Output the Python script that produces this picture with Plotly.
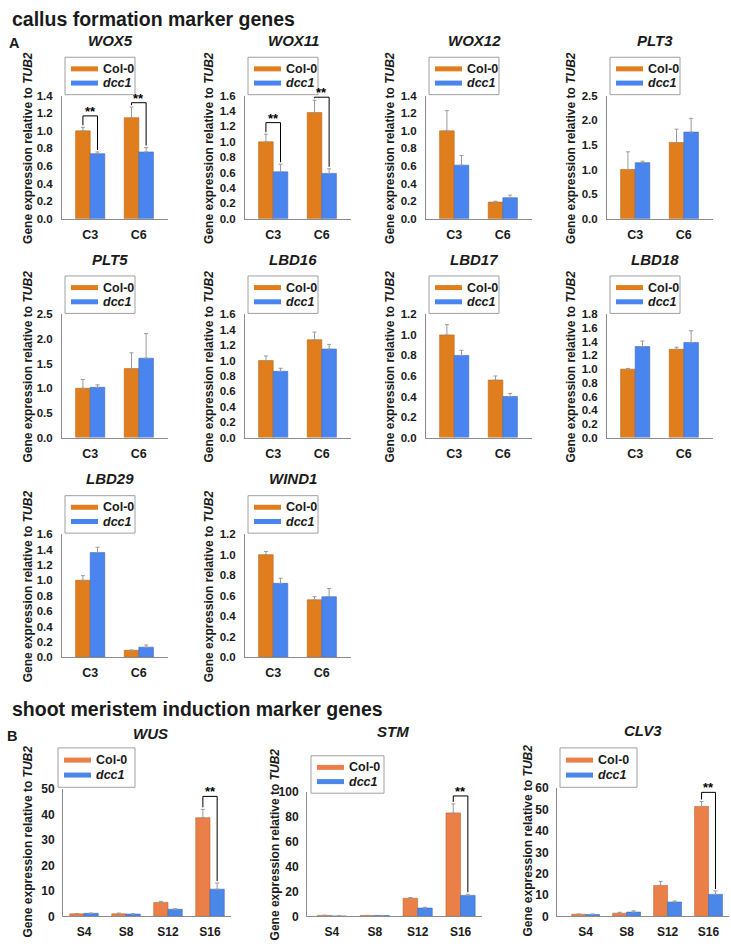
import plotly.graph_objects as go

W, H = 731, 948
FONT = "Liberation Sans, Arial, sans-serif"

# ---------------- data: panel A (callus formation marker genes) ----------------
categories_A = ["C3", "C6"]
genes_A = ["WOX5", "WOX11", "WOX12", "PLT3", "PLT5", "LBD16", "LBD17", "LBD18", "LBD29", "WIND1"]
col0_A = [[1.00, 1.15], [1.00, 1.38], [1.00, 0.19], [1.00, 1.55], [1.00, 1.40],
          [1.00, 1.27], [1.00, 0.56], [1.00, 1.29], [1.00, 0.09], [1.00, 0.56]]
col0_A_err = [[0.04, 0.12], [0.10, 0.16], [0.23, 0.01], [0.36, 0.27], [0.18, 0.32],
              [0.06, 0.10], [0.10, 0.04], [0.01, 0.03], [0.06, 0.005], [0.03, 0.03]]
dcc1_A = [[0.74, 0.76], [0.61, 0.59], [0.61, 0.24], [1.14, 1.76], [1.02, 1.61],
          [0.86, 1.15], [0.80, 0.40], [1.33, 1.39], [1.36, 0.13], [0.72, 0.59]]
dcc1_A_err = [[0.02, 0.05], [0.10, 0.06], [0.11, 0.03], [0.03, 0.28], [0.05, 0.50],
              [0.04, 0.06], [0.05, 0.03], [0.08, 0.17], [0.07, 0.03], [0.05, 0.08]]
ymax_A = [1.4, 1.6, 1.4, 2.5, 2.5, 1.6, 1.2, 1.8, 1.6, 1.2]
dtick_A = [0.2, 0.2, 0.2, 0.5, 0.5, 0.2, 0.2, 0.2, 0.2, 0.2]

# ---------------- data: panel B (shoot meristem induction marker genes) ----------------
categories_B = ["S4", "S8", "S12", "S16"]
genes_B = ["WUS", "STM", "CLV3"]
col0_B = [[1.0, 1.0, 5.5, 38.8], [0.8, 0.7, 14.6, 83.3], [1.0, 1.5, 14.5, 51.5]]
col0_B_err = [[0.1, 0.3, 0.4, 3.3], [0.1, 0.1, 0.6, 7.3], [0.1, 0.4, 1.8, 2.3]]
dcc1_B = [[1.2, 0.9, 2.8, 10.7], [0.3, 0.7, 6.7, 16.9], [0.9, 2.0, 6.7, 10.3]]
dcc1_B_err = [[0.1, 0.1, 0.2, 2.4], [0.1, 0.1, 0.6, 0.9], [0.2, 0.6, 0.5, 1.6]]
ymax_B = [50, 100, 60]
dtick_B = [10, 20, 10]

# significance brackets: gene, category index, bracket level
sig_gene = ["WOX5", "WOX5", "WOX11", "WOX11", "WUS", "STM", "CLV3"]
sig_cat = [0, 1, 0, 1, 3, 3, 3]
sig_level = [1.17, 1.32, 1.25, 1.58, 47.2, 97.0, 58.1]
sig_text = "**"

series_names = ["Col-0", "<i>dcc1</i>"]

# ---------------- styling / geometry (pixels) ----------------
colors_A = ["#E07E1E", "#4A85EF"]
lines_A = ["#B8661A", "#3A6CC8"]
colors_B = ["#EA7F47", "#4A87E9"]
lines_B = ["#BE6638", "#3A6CC0"]
AXIS_COLOR = "#8c8c8c"
ERR_COLOR = "#9a9a9a"

rowA_top = [90, 312, 535]
rowA_bot = [215, 437, 660]
colA_x0 = [62, 245, 426, 607]
colA_ytitle = [28, 209, 390, 571]
A_width = 106
A_range = [-0.58, 1.6]
A_bw = 0.30

B_x0 = [63, 307, 557]
B_x1 = [231, 482, 729]
B_range = [[-0.5, 3.5], [-0.58, 3.5], [-0.7, 3.5]]
B_top = [794, 797, 793]
B_bot = 923
B_ytitle = [28, 275, 528]
B_title = [(150, 737), (393, 735), (643, 734)]
B_legend = [(58, 752, 77, 40), (311, 760, 73, 38), (560, 752, 77, 40)]
B_bw = 0.34


def px_x(x):
    return x / W


def px_y(y):
    return 1 - y / H


fig = go.Figure()
layout = dict(
    width=W, height=H, margin=dict(l=0, r=0, t=0, b=0),
    paper_bgcolor="white", plot_bgcolor="white",
    font=dict(family=FONT, color="#1a1a1a"),
    showlegend=False,
)
annotations = []
shapes = []

sig_map = {}
for g, c, lv in zip(sig_gene, sig_cat, sig_level):
    sig_map.setdefault(g, []).append((c, lv))


def draw_legend(left, top, w, h, cols):
    shapes.append(dict(type="rect", xref="paper", yref="paper",
                       x0=px_x(left), x1=px_x(left + w), y0=px_y(top + h), y1=px_y(top),
                       line=dict(color="#a0a0a0", width=1), fillcolor="white", layer="above"))
    for s in range(2):
        yy = top + h * (0.31 if s == 0 else 0.69)
        shapes.append(dict(type="line", xref="paper", yref="paper",
                           x0=px_x(left + 6), x1=px_x(left + 33), y0=px_y(yy), y1=px_y(yy),
                           line=dict(color=cols[s], width=5), layer="above"))
        annotations.append(dict(
            x=px_x(left + 36), y=px_y(yy), xref="paper", yref="paper",
            text=series_names[s], showarrow=False, xanchor="left", yanchor="middle",
            font=dict(family=FONT, size=12.5, color="#1a1a1a", weight="bold")))


def add_panel(k, gene, cats, m1, e1, m2, e2, ymax, dtick, x0, x1, xr, top, bot,
              cols, lcols, bw, tickfmt, xfs, yfs, title_xy, ytitle_x, legend_box, standoff):
    xa = "x" if k == 1 else f"x{k}"
    ya = "y" if k == 1 else f"y{k}"
    idx = list(range(len(cats)))
    n = len(cats)
    for s, (m, e, off) in enumerate([(m1, e1, -bw), (m2, e2, 0.0)]):
        fig.add_trace(go.Bar(
            x=idx, y=m, width=bw, offset=off, xaxis=xa, yaxis=ya,
            name=["Col-0", "dcc1"][s],
            marker=dict(color=cols[s], line=dict(color=lcols[s], width=0.6)),
            error_y=dict(type="data", array=e, arrayminus=[0] * n, symmetric=False,
                         color=ERR_COLOR, thickness=1, width=2),
            showlegend=False, hoverinfo="skip"))
    # brackets
    hpx = bot - top
    gap = 2 * ymax / hpx
    for (c, lv) in sig_map.get(gene, []):
        xl, xr_ = c - bw / 2, c + bw / 2
        fig.add_trace(go.Scatter(
            x=[xl, xl, xr_, xr_],
            y=[m1[c] + e1[c] + gap, lv, lv, m2[c] + e2[c] + gap],
            mode="lines", line=dict(color="black", width=1), xaxis=xa, yaxis=ya,
            cliponaxis=False, showlegend=False, hoverinfo="skip"))
        annotations.append(dict(
            x=c, y=lv, xref=xa, yref=ya, text=sig_text, showarrow=False,
            yanchor="bottom", yshift=-5,
            font=dict(family=FONT, size=13, color="black", weight="bold")))
    layout["xaxis" if k == 1 else f"xaxis{k}"] = dict(
        domain=[px_x(x0), px_x(x1)], anchor=ya, range=xr,
        tickvals=idx, ticktext=cats, showline=True, linecolor=AXIS_COLOR, linewidth=1,
        showgrid=False, zeroline=False, ticks="", ticklabelstandoff=4,
        tickfont=dict(family=FONT, size=xfs, color="#1a1a1a", weight="bold"), fixedrange=True)
    layout["yaxis" if k == 1 else f"yaxis{k}"] = dict(
        domain=[px_y(bot), px_y(top)], anchor=xa, range=[0, ymax], tick0=0, dtick=dtick,
        tickformat=tickfmt, showline=True, linecolor=AXIS_COLOR, linewidth=1,
        showgrid=False, zeroline=False, ticks="", ticklabelstandoff=standoff,
        tickfont=dict(family=FONT, size=yfs, color="#1a1a1a", weight="bold"), fixedrange=True)
    # gene title
    annotations.append(dict(
        x=px_x(title_xy[0]), y=px_y(title_xy[1]), xref="paper", yref="paper",
        text=gene, showarrow=False, xanchor="center", yanchor="middle",
        font=dict(family=FONT, size=15, color="#1a1a1a", weight="bold", style="italic")))
    # y-axis title
    annotations.append(dict(
        x=px_x(ytitle_x), y=px_y(top + 53), xref="paper", yref="paper",
        text="Gene expression relative to <i>TUB2</i>", textangle=-90, showarrow=False,
        xanchor="center", yanchor="middle",
        font=dict(family=FONT, size=12, color="#1a1a1a", weight="bold")))
    draw_legend(*legend_box, cols)


k = 1
for i, g in enumerate(genes_A):
    r, c = divmod(i, 4)
    x0 = colA_x0[c]
    add_panel(k, g, categories_A, col0_A[i], col0_A_err[i], dcc1_A[i], dcc1_A_err[i],
              ymax_A[i], dtick_A[i], x0, x0 + A_width, A_range, rowA_top[r], rowA_bot[r],
              colors_A, lines_A, A_bw, ".1f", 12.5, 11.5,
              (x0 + 48, rowA_top[r] - 56), colA_ytitle[c],
              (x0 + 3, rowA_top[r] - 39, 70, 38), 6)
    k += 1

for j, g in enumerate(genes_B):
    add_panel(k, g, categories_B, col0_B[j], col0_B_err[j], dcc1_B[j], dcc1_B_err[j],
              ymax_B[j], dtick_B[j], B_x0[j], B_x1[j], B_range[j], B_top[j], B_bot,
              colors_B, lines_B, B_bw, "d", 12, 12,
              B_title[j], B_ytitle[j], B_legend[j], 5)
    k += 1

# section headings and panel letters
for txt, x, y, size in [("callus formation marker genes", 10, 12, 19.5),
                        ("shoot meristem induction marker genes", 10, 713, 19.5),
                        ("A", 7, 37, 14.5), ("B", 5, 740, 14.5)]:
    annotations.append(dict(
        x=px_x(x), y=px_y(y), xref="paper", yref="paper", text=txt, showarrow=False,
        xanchor="left", yanchor="middle",
        font=dict(family=FONT, size=size, color="#1a1a1a", weight="bold")))

layout["annotations"] = annotations
layout["shapes"] = shapes
fig.update_layout(**layout)
fig.write_html("out.html",
               config={"displayModeBar": False, "staticPlot": True},
               post_script="document.body.style.margin='0px';"
                           "document.documentElement.style.overflow='hidden';")
